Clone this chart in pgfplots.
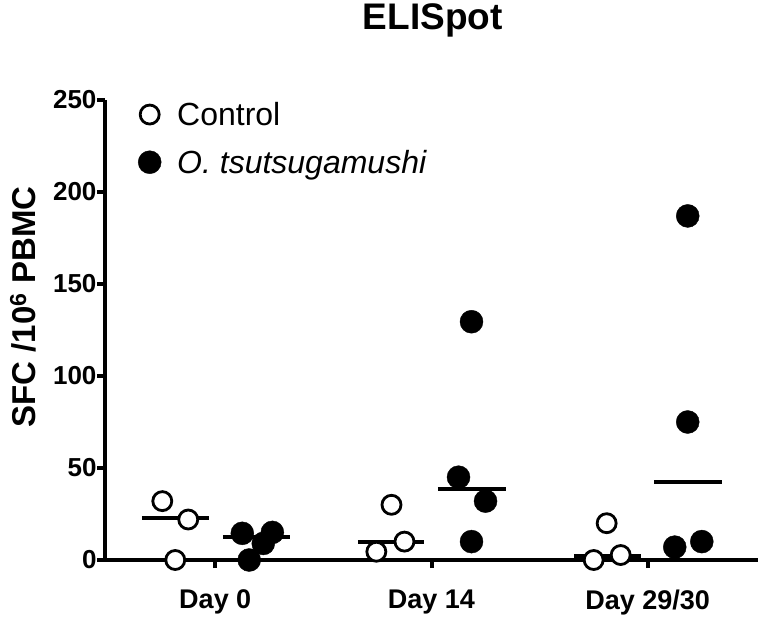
\documentclass[border=0pt]{standalone}
\usepackage{pgfplots}
\pgfplotsset{compat=1.18}
\usepackage{fontspec}
\setmainfont{Liberation Sans}
\begin{document}
\begin{tikzpicture}
\path[use as bounding box] (-105pt,-61pt) rectangle (658pt,560pt);
\begin{axis}[
  scale only axis, width=653pt, height=460pt,
  at={(0pt,0pt)}, anchor=south west,
  xmin=-0.51, xmax=2.51, ymin=0, ymax=250,
  axis x line*=bottom, axis y line*=left,
  axis line style={line width=4pt, -},
  xtick={0,1,2}, xticklabels={Day 0, Day 14, Day 29/30},
  ytick={0,50,100,150,200,250},
  tick align=outside, major tick length=8pt,
  tick style={line width=4pt, black},
  /pgf/number format/assume math mode=true,
  xticklabel style={font=\fontsize{27}{27}\selectfont\bfseries, yshift=-18pt},
  yticklabel style={font=\fontsize{26}{26}\selectfont\bfseries, xshift=3pt},
  clip=false,
  title={ELISpot},
  title style={font=\fontsize{37}{37}\selectfont\bfseries, at={(axis description cs:0.502,1)}, anchor=base, yshift=64pt},
  ylabel={SFC /10\textsuperscript{6} PBMC},
  ylabel style={font=\fontsize{33}{33}\selectfont\bfseries, at={(axis description cs:-0.1256,0.55)}, anchor=center},
  legend style={draw=none, fill=none, at={(axis description cs:0.0,1.0)}, anchor=north west, xshift=33pt,
    font=\fontsize{32}{38}\selectfont, inner sep=0pt, row sep=19pt},
  legend cell align=left,
]
\addplot[only marks, mark=*, mark size=9.5pt, mark options={fill=white, draw=black, line width=2.8pt}]
coordinates {
(-0.245,32) (-0.125,22) (-0.185,0)
(0.815,30) (0.875,10) (0.745,4.5)
(1.81,20) (1.75,0) (1.875,2.7)
};
\addlegendentry{\hspace{14pt}Control}
\addplot[only marks, mark=*, mark size=11.5pt, mark options={fill=black, draw=black}]
coordinates {
(0.125,14.5) (0.264,15) (0.222,9) (0.157,0)
(1.125,45) (1.25,32) (1.185,10) (1.185,129.5)
(2.185,187) (2.185,75) (2.125,7) (2.25,10)
};
\addlegendentry{\hspace{14pt}\textit{O. tsutsugamushi}}
\addplot[black, line width=4pt, forget plot] coordinates {(-0.34,23) (-0.03,23)};
\addplot[black, line width=4pt, forget plot] coordinates {(0.035,12.5) (0.345,12.5)};
\addplot[black, line width=4pt, forget plot] coordinates {(0.66,10) (0.965,10)};
\addplot[black, line width=4pt, forget plot] coordinates {(1.03,38.6) (1.345,38.6)};
\addplot[black, line width=4pt, forget plot] coordinates {(1.66,2) (1.97,2)};
\addplot[black, line width=4pt, forget plot] coordinates {(2.03,42.4) (2.345,42.4)};
\end{axis}
\end{tikzpicture}
\end{document}
